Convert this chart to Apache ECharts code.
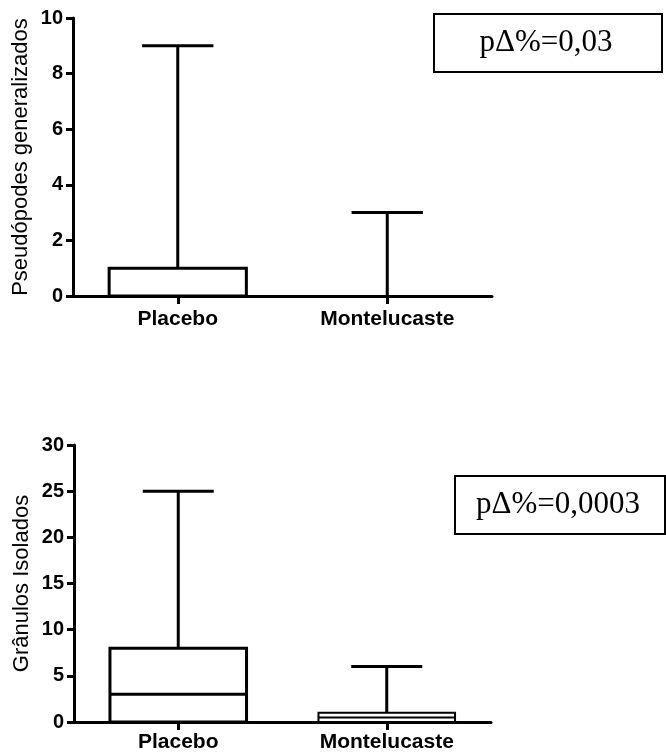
<!DOCTYPE html>
<html>
<head>
<meta charset="utf-8">
<script src="https://cdn.jsdelivr.net/npm/echarts@6/dist/echarts.min.js"></script>
<style>
  html, body { margin: 0; padding: 0; background: #fff; }
  #chart { width: 666px; height: 754px; }
</style>
</head>
<body>
<div id="chart"></div>
<script>
// grupos
const categories = ['Placebo', 'Montelucaste'];
// [min, Q1, mediana, Q3, max]
const pseudopodesStats = [[0, 0, 0, 1, 9], [0, 0, 0, 0, 3]];
const granulosStats = [[0, 0, 3, 8, 25], [0, 0, 0.5, 1, 6]];
const pseudopodesAxis = { min: 0, max: 10, interval: 2 };
const granulosAxis = { min: 0, max: 30, interval: 5 };
const pTop = 'pΔ%=0,03';
const pBottom = 'pΔ%=0,0003';

const sans = 'Liberation Sans, Arial, sans-serif';
const serif = 'Liberation Serif, Times New Roman, serif';

function toRows(stats) {
  return stats.map((s, i) => [i].concat(s));
}

// caixa + bigode com tampa menor que a caixa
function renderBox(params, api) {
  const x = api.value(0);
  const min = api.value(1), q1 = api.value(2), med = api.value(3), q3 = api.value(4), max = api.value(5);
  const bw = api.size([1, 0])[0] * 0.655;
  const cw = bw * 0.52;
  const c = api.coord([x, min])[0];
  const yMin = api.coord([x, min])[1];
  const yQ1 = api.coord([x, q1])[1];
  const yMed = api.coord([x, med])[1];
  const yQ3 = api.coord([x, q3])[1];
  const yMax = api.coord([x, max])[1];
  const st = { stroke: '#000', lineWidth: 3, fill: null };
  const children = [];
  if (max > q3) {
    children.push({ type: 'line', shape: { x1: c, y1: yQ3, x2: c, y2: yMax }, style: st });
    children.push({ type: 'line', shape: { x1: c - cw / 2, y1: yMax, x2: c + cw / 2, y2: yMax }, style: st });
  }
  if (min < q1) {
    children.push({ type: 'line', shape: { x1: c, y1: yQ1, x2: c, y2: yMin }, style: st });
    children.push({ type: 'line', shape: { x1: c - cw / 2, y1: yMin, x2: c + cw / 2, y2: yMin }, style: st });
  }
  if (q3 > q1) {
    const lw = (yQ1 - yQ3) < 15 ? 2 : 3;
    children.push({ type: 'rect', shape: { x: c - bw / 2, y: yQ3, width: bw, height: yQ1 - yQ3 },
      style: { stroke: '#000', lineWidth: lw, fill: '#fff' } });
    if (med > q1 && med < q3 || med === q3) {
      children.push({ type: 'line', shape: { x1: c - bw / 2, y1: yMed, x2: c + bw / 2, y2: yMed },
        style: { stroke: '#000', lineWidth: lw } });
    }
  }
  return { type: 'group', children: children };
}

function xAxisOf(gridIndex, margin) {
  return {
    type: 'category', gridIndex: gridIndex, data: categories, boundaryGap: true,
    axisLine: { show: true, lineStyle: { color: '#000', width: 3 } },
    axisTick: { show: true, alignWithLabel: true, length: 8, lineStyle: { color: '#000', width: 3 } },
    axisLabel: { color: '#000', fontFamily: sans, fontWeight: 'bold', fontSize: 21, margin: margin },
    splitLine: { show: false }
  };
}

function yAxisOf(gridIndex, cfg, name) {
  return {
    type: 'value', gridIndex: gridIndex, min: cfg.min, max: cfg.max, interval: cfg.interval,
    name: name, nameLocation: 'middle', nameGap: 41, nameMoveOverlap: false,
    nameTextStyle: { color: '#000', fontFamily: sans, fontSize: 22 },
    axisLine: { show: true, lineStyle: { color: '#000', width: 3 } },
    axisTick: { show: true, length: 7, lineStyle: { color: '#000', width: 3 } },
    axisLabel: { color: '#000', fontFamily: sans, fontWeight: 'bold', fontSize: 20, margin: 10 },
    splitLine: { show: false }
  };
}

function noteBox(x, y, w, h, text) {
  return {
    type: 'group', left: x, top: y,
    children: [
      { type: 'rect', shape: { x: 0, y: 0, width: w, height: h }, style: { fill: '#fff', stroke: '#000', lineWidth: 2 } },
      { type: 'text', x: w / 2 - 2, y: h / 2,
        style: { text: text, font: '31px ' + serif, fill: '#000', align: 'center', verticalAlign: 'middle' } }
    ]
  };
}

const chart = echarts.init(document.getElementById('chart'), null, { renderer: 'canvas' });
chart.setOption({
  backgroundColor: '#fff',
  animation: false,
  grid: [
    { left: 73, top: 18, width: 419, height: 278 },
    { left: 74, top: 445, width: 417, height: 277 }
  ],
  xAxis: [xAxisOf(0, 13), xAxisOf(1, 10)],
  yAxis: [
    yAxisOf(0, pseudopodesAxis, 'Pseudópodes generalizados'),
    yAxisOf(1, granulosAxis, 'Grânulos Isolados')
  ],
  series: [
    { type: 'custom', xAxisIndex: 0, yAxisIndex: 0, renderItem: renderBox,
      encode: { x: 0, y: [1, 2, 3, 4, 5] }, data: toRows(pseudopodesStats), z: 3 },
    { type: 'custom', xAxisIndex: 1, yAxisIndex: 1, renderItem: renderBox,
      encode: { x: 0, y: [1, 2, 3, 4, 5] }, data: toRows(granulosStats), z: 3 }
  ],
  graphic: [
    noteBox(433, 13, 228, 58, pTop),
    noteBox(454, 475, 210, 58, pBottom)
  ]
});
</script>
</body>
</html>
